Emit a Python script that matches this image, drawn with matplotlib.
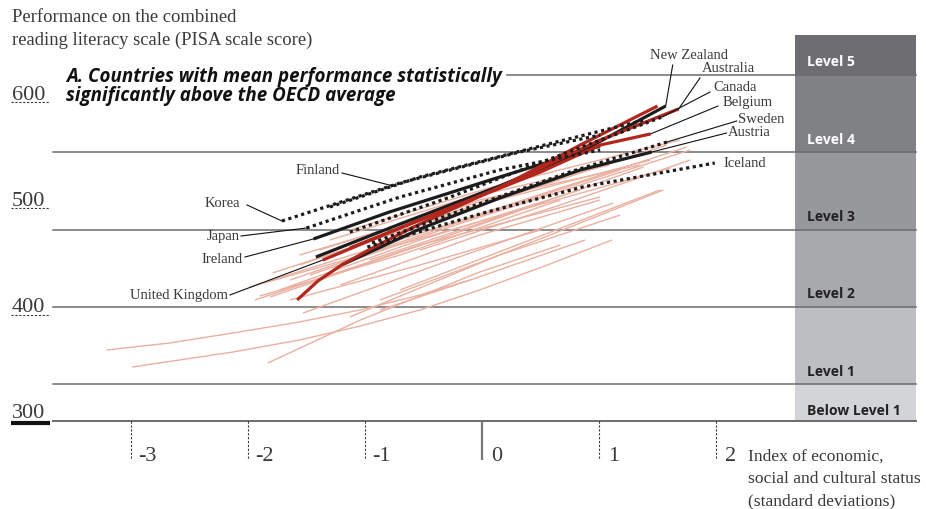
import numpy as np
import matplotlib

matplotlib.use("Agg")
import matplotlib.pyplot as plt  # noqa: E402
from matplotlib.patches import Rectangle  # noqa: E402

SERIF = "Liberation Serif"
SANS = "Open Sans"
TXT = "#3a3a3a"
RED, BLACK, PALE, GRID = "#b3261e", "#1c1c1c", "#eab0a0", "#6b6b6b"

# proficiency level lower bounds (PISA reading) and band shades
level_names = ["Below Level 1", "Level 1", "Level 2", "Level 3", "Level 4", "Level 5"]
level_lo = [300.0, 334.8, 407.5, 480.2, 552.9, 625.6]
level_hi = [334.8, 407.5, 480.2, 552.9, 625.6, 663.2]
level_col = ["#d3d4d7", "#bdbec2", "#a8a9ad", "#97989c", "#808185", "#6e6e72"]
level_txt = ["#222222", "#222222", "#222222", "#222222", "white", "white"]

x_ticks = [-3, -2, -1, 0, 1, 2]
y_ticks = [300, 400, 500, 600]

# highlighted countries: ESCS index (x) vs reading score (y)
hl_name = ["Korea", "Finland", "Japan", "Canada", "Iceland", "Sweden",
           "Ireland", "New Zealand", "Austria", "United Kingdom", "Australia", "Belgium"]
hl_kind = ["dot", "dot", "dot", "dot", "dot", "dot",
           "black", "black", "black", "red", "red", "red"]
hl_x = [
    [-1.71, -0.70, 0.32, 1.01],
    [-1.30, -0.53, 0.50, 1.39],
    [-1.50, -0.70, 0.15, 1.01],
    [-1.13, -0.27, 0.67, 1.54],
    [-0.98, 0.01, 0.86, 1.99],
    [-0.94, -0.10, 0.75, 1.58],
    [-1.44, -0.79, 0.07, 1.01],
    [-1.42, -0.70, 0.15, 0.84, 1.57],
    [-1.20, -0.53, 0.15, 0.84, 1.45],
    [-1.36, -0.70, 0.15, 0.84, 1.50],
    [-1.58, -1.40, -1.20, -0.90, -0.53, 0.32, 1.01, 1.68],
    [-1.13, -0.36, 0.50, 1.01, 1.44],
]
hl_y = [
    [488.2, 524.0, 553.1, 569.1],
    [501.4, 529.6, 558.8, 583.2],
    [481.6, 510.8, 536.2, 555.0],
    [477.8, 510.8, 550.3, 586.1],
    [463.7, 495.7, 520.2, 542.8],
    [467.5, 501.4, 534.3, 562.5],
    [471.3, 496.7, 526.8, 558.8],
    [454.3, 485.4, 521.1, 553.1, 596.4],
    [446.8, 480.7, 509.8, 536.2, 553.1],
    [451.5, 481.6, 519.3, 559.7, 596.4],
    [413.9, 432.0, 446.8, 465.0, 485.4, 528.7, 564.4, 593.6],
    [462.8, 496.7, 534.3, 559.7, 570.1],
]

# other countries (pale lines)
pale_x = [
    [-3.21, -2.67, -2.13, -1.56, -1.04, -0.53, -0.10],
    [-2.99, -2.13, -1.56, -1.04, -0.53, -0.02, 0.58, 1.11],
    [-1.83, -1.04, -0.02, 0.67],
    [-1.13, 0.15, 1.55],
    [-0.87, -0.10, 0.88],
    [-1.53, -0.27, 1.12],
    [-1.94, -0.53, 1.01],
    [-1.81, -0.27, 1.38],
    [-1.79, -0.27, 1.58],
    [-1.98, -0.44, 1.75],
    [-1.90, -0.70, 0.67],
    [-1.64, -0.27, 1.18],
    [-1.73, -0.53, 0.84],
    [-1.56, -0.19, 1.44],
    [-1.47, -0.10, 1.78],
    [-1.39, -0.02, 1.35],
    [-1.86, -0.87, 0.33],
    [-1.21, -0.02, 1.01],
    [-0.87, 0.15, 1.18],
    [-1.30, -0.19, 1.09],
    [-1.13, 0.15, 1.69],
    [-1.64, -0.53, 0.50],
    [-0.70, 0.41, 1.52],
    [-0.96, 0.33, 1.61],
    [-0.53, 0.67, 1.78],
    [-1.56, -0.70, 0.33],
]
pale_y = [
    [366.8, 373.4, 382.8, 393.2, 404.5, 418.6, 432.7],
    [350.8, 364.9, 376.2, 389.4, 404.5, 423.3, 447.7, 470.3],
    [354.6, 395.0, 440.2, 465.6],
    [397.9, 456.2, 517.4],
    [404.5, 432.7, 470.3],
    [401.6, 451.5, 505.1],
    [413.9, 465.6, 510.8],
    [416.7, 475.0, 539.0],
    [439.3, 493.8, 559.7],
    [426.1, 479.7, 557.8],
    [417.6, 456.2, 508.0],
    [432.7, 484.4, 536.2],
    [423.3, 470.3, 517.4],
    [446.8, 498.6, 545.6],
    [437.4, 489.1, 555.0],
    [460.9, 508.0, 540.9],
    [429.9, 460.9, 498.6],
    [428.0, 475.0, 508.0],
    [413.9, 456.2, 493.8],
    [470.3, 508.0, 540.9],
    [479.7, 522.1, 564.4],
    [413.9, 446.8, 479.7],
    [423.3, 470.3, 517.4],
    [451.5, 498.6, 538.1],
    [460.9, 503.3, 545.6],
    [456.2, 484.4, 517.4],
]

fig = plt.figure(figsize=(9.26, 5.09), dpi=100, facecolor="white")
ax = fig.add_axes([0, 0, 1, 1])
ax.set_xlim(-4.1197, 3.7949)
ax.set_ylim(217.19, 696.17)
ax.axis("off")

XL, XR = -3.667, 3.709  # plot frame left / right
BAND_L = 2.675
LEFT = -4.017           # left margin for the y labels

# level bands on the right
for lo, hi, c, name, tc in zip(level_lo, level_hi, level_col, level_names, level_txt):
    ax.add_patch(Rectangle((BAND_L, lo), XR - BAND_L, hi - lo, color=c, lw=0, zorder=0))
    ax.text(BAND_L + 0.1, lo + (5.5 if lo == 300 else 8.0), name, color=tc, fontsize=10,
            fontweight="bold", family=SANS, va="baseline", ha="left", zorder=5)

# level boundary lines
for lo in level_lo[1:]:
    x0 = 0.21 if lo == 625.6 else XL
    ax.plot([x0, XR], [lo, lo], color=GRID, lw=1.1, zorder=1)
ax.plot([XL, XR], [300, 300], color=GRID, lw=1.4, zorder=1)

# y tick labels with underlines
for v in y_ticks:
    ax.text(LEFT, v + 2.5, str(v), fontsize=16, family=SERIF, color=TXT, va="baseline")
    if v == 300:
        ax.plot([LEFT - 0.01, -3.69], [297.8, 297.8], color="#111111", lw=3,
                solid_capstyle="butt")
    else:
        ax.plot([LEFT - 0.01, -3.69], [v, v], color=TXT, lw=0.8, linestyle=(0, (2, 1.5)))

# x ticks
for t in x_ticks:
    if t == 0:
        ax.plot([t, t], [300, 263.5], color="#777777", lw=1.6, solid_capstyle="butt")
    else:
        ax.plot([t, t], [300, 263.5], color=TXT, lw=0.8, linestyle=(0, (2, 1.5)))
    ax.text(t + (0.08 if t >= 0 else 0.06), 262.4, str(t), fontsize=16, family=SERIF,
            color=TXT, va="baseline")

for i, s in enumerate(["Index of economic,", "social and cultural status",
                       "(standard deviations)"]):
    ax.text(2.274, 262.4 - 20.7 * i, s, fontsize=12.6, family=SERIF, color=TXT,
            va="baseline")

ax.text(LEFT, 675.5, "Performance on the combined", fontsize=13.4, family=SERIF,
        color=TXT, va="baseline")
ax.text(LEFT, 653.8, "reading literacy scale (PISA scale score)", fontsize=13.4,
        family=SERIF, color=TXT, va="baseline")

ax.text(-3.556, 619.0, "A. Countries with mean performance statistically", fontsize=13.5,
        family=SANS, fontweight="bold", fontstyle="italic", color="#111111", va="baseline")
ax.text(-3.556, 601.1, "significantly above the OECD average", fontsize=13.5,
        family=SANS, fontweight="bold", fontstyle="italic", color="#111111", va="baseline")

# pale lines
for xs, ys in zip(pale_x, pale_y):
    ax.plot(xs, ys, color=PALE, lw=1.0, zorder=2, solid_capstyle="butt",
            solid_joinstyle="round")

# highlighted lines
for xs, ys, kind in zip(hl_x, hl_y, hl_kind):
    if kind == "dot":
        ax.plot(xs, ys, color=BLACK, lw=2.3, linestyle=(0, (1, 1.1)),
                dash_capstyle="butt", zorder=4)
    else:
        ax.plot(xs, ys, color=RED if kind == "red" else BLACK, lw=2.3, zorder=3,
                solid_capstyle="butt", solid_joinstyle="round")


def pointer(name, x0, y0, at=None):
    i = hl_name.index(name)
    xs, ys = hl_x[i], hl_y[i]
    if at == "start":
        tx, ty = xs[0], ys[0]
    elif at == "end":
        tx, ty = xs[-1], ys[-1]
    else:
        tx, ty = at, float(np.interp(at, xs, ys))
    ax.plot([x0, tx], [y0, ty], color="#111111", lw=0.8, zorder=6)


lab = dict(fontsize=10.5, family=SERIF, color=TXT, va="baseline")
# right-hand labels
ax.text(1.436, 640.6, "New Zealand", ha="left", **lab)
pointer("New Zealand", 1.63, 635.0, "end")
ax.text(1.880, 628.4, "Australia", ha="left", **lab)
pointer("Australia", 1.863, 622.8, "end")
ax.text(1.974, 610.5, "Canada", ha="left", **lab)
pointer("Canada", 1.949, 609.6, "end")
ax.text(2.060, 596.4, "Belgium", ha="left", **lab)
pointer("Belgium", 2.017, 596.4, "end")
ax.text(2.188, 580.4, "Sweden", ha="left", **lab)
pointer("Sweden", 2.177, 582.3, "end")
ax.text(2.103, 568.2, "Austria", ha="left", **lab)
pointer("Austria", 2.09, 571.0, "end")
ax.text(2.060, 539.0, "Iceland", ha="left", **lab)
# left-hand labels
ax.text(-1.214, 532.4, "Finland", ha="right", **lab)
pointer("Finland", -1.197, 533.4, -0.76)
ax.text(-2.068, 501.4, "Korea", ha="right", **lab)
pointer("Korea", -2.009, 503.3, "start")
ax.text(-2.068, 470.3, "Japan", ha="right", **lab)
pointer("Japan", -2.06, 474.1, "start")
ax.text(-2.043, 448.7, "Ireland", ha="right", **lab)
pointer("Ireland", -2.026, 454.3, "start")
ax.text(-2.171, 414.8, "United Kingdom", ha="right", **lab)
pointer("United Kingdom", -2.154, 418.6, "start")

fig.savefig("out.png", dpi=100, facecolor="white")
